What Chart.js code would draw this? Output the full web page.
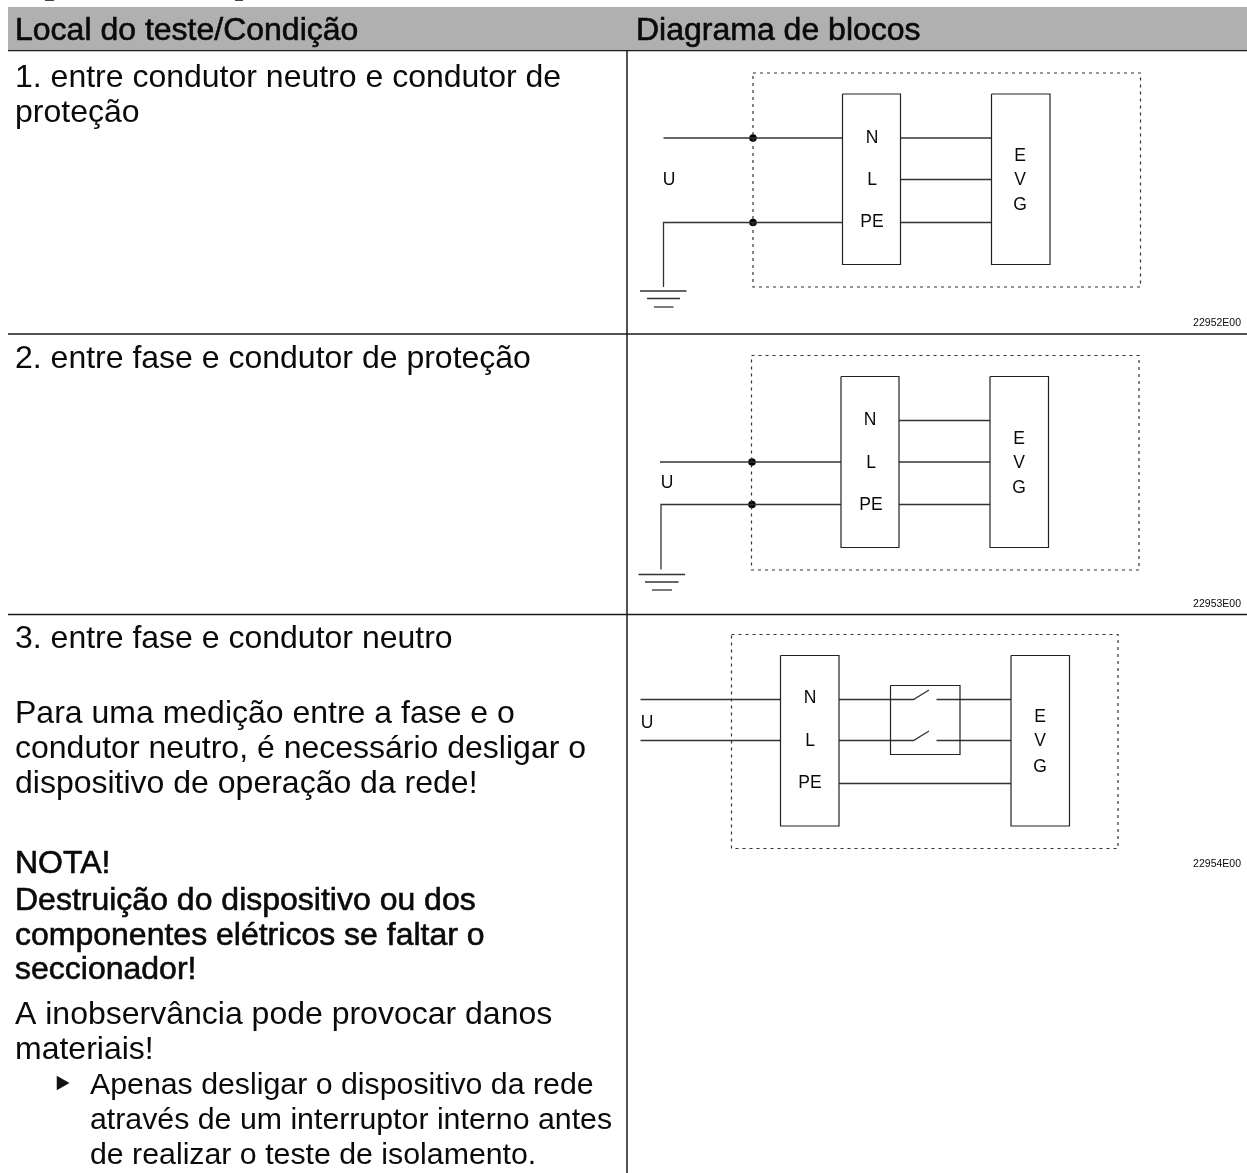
<!DOCTYPE html>
<html>
<head>
<meta charset="utf-8">
<title>Local do teste / Diagrama de blocos</title>
<script src="https://cdn.jsdelivr.net/npm/chart.js@4"></script>
<style>
  html, body { margin: 0; padding: 0; background: #fff; }
  #sheet { position: absolute; left: 0; top: 0; width: 1247px; height: 1173px; }
</style>
</head>
<body>
<div id="sheet"><canvas id="chart"></canvas></div>
<script>
// Everything below is in picture units, the x and y axes run 0-1247 and 0-1173
const headerBand = [[8, 7], [1247, 7], [1247, 50], [8, 50]];

// table rules: x1, y1, x2, y2
const tableRules = [
  [8, 50.5, 1247, 50.5],
  [8, 334, 1247, 334],
  [8, 614.5, 1247, 614.5],
  [627, 7, 627, 1173],
];

// descenders of the line cut off above the table
const clippedGlyphs = [
  [45, 0.5, 54, 0.5],
  [235, 0.5, 243, 0.5],
];

// dashed housing of each diagram
const housings = [
  [[753, 73], [1140.5, 73], [1140.5, 287], [753, 287], [753, 73]],
  [[751.5, 355.5], [1139, 355.5], [1139, 570], [751.5, 570], [751.5, 355.5]],
  [[731.5, 634.5], [1118, 634.5], [1118, 848.5], [731.5, 848.5], [731.5, 634.5]],
];

// solid boxes
const boxes = [
  [[842.5, 94], [900.5, 94], [900.5, 264.5], [842.5, 264.5], [842.5, 94]],
  [[991.5, 94], [1050, 94], [1050, 264.5], [991.5, 264.5], [991.5, 94]],
  [[841, 376.5], [899, 376.5], [899, 547.5], [841, 547.5], [841, 376.5]],
  [[990, 376.5], [1048.5, 376.5], [1048.5, 547.5], [990, 547.5], [990, 376.5]],
  [[780.5, 655.5], [839, 655.5], [839, 826], [780.5, 826], [780.5, 655.5]],
  [[1011, 655.5], [1069.5, 655.5], [1069.5, 826], [1011, 826], [1011, 655.5]],
  [[890.5, 685.5], [960, 685.5], [960, 754.5], [890.5, 754.5], [890.5, 685.5]],
];

// wires as polylines
const wires = [
  [[663.5, 138], [842.5, 138]],
  [[900.5, 138], [991.5, 138]],
  [[900.5, 179.5], [991.5, 179.5]],
  [[663.5, 287], [663.5, 222.5], [842.5, 222.5]],
  [[900.5, 222.5], [991.5, 222.5]],
  [[640, 291], [686.5, 291]],
  [[647, 298.5], [680, 298.5]],
  [[654, 307], [673.5, 307]],

  [[899, 420.5], [990, 420.5]],
  [[660, 462], [841, 462]],
  [[899, 462], [990, 462]],
  [[661, 569.5], [661, 504.5], [841, 504.5]],
  [[899, 504.5], [990, 504.5]],
  [[638.5, 574.5], [685, 574.5]],
  [[645, 582], [678.5, 582]],
  [[652, 590], [672, 590]],

  [[640.5, 699.5], [780.5, 699.5]],
  [[640.5, 740.5], [780.5, 740.5]],
  [[839, 699.5], [913.5, 699.5], [929, 690]],
  [[936.5, 699.5], [1011, 699.5]],
  [[839, 740.5], [913.5, 740.5], [929, 731]],
  [[936.5, 740.5], [1011, 740.5]],
  [[839, 783.5], [1011, 783.5]],
];

const junctions = [[753, 138], [753, 222.5], [752, 462], [752, 504.5]];
const bullets = [[61, 1083]];

// text: label, x, y (baseline)
const headerTexts = [
  ["Local do teste/Condição", 15, 40],
  ["Diagrama de blocos", 636, 40],
];
const bodyTexts = [
  ["1. entre condutor neutro e condutor de", 15, 87],
  ["proteção", 15, 122],
  ["2. entre fase e condutor de proteção", 15, 368],
  ["3. entre fase e condutor neutro", 15, 648],
  ["Para uma medição entre a fase e o", 15, 723],
  ["condutor neutro, é necessário desligar o", 15, 758],
  ["dispositivo de operação da rede!", 15, 793],
  ["A inobservância pode provocar danos", 15, 1024],
  ["materiais!", 15, 1059],
];
const stepTexts = [
  ["Apenas desligar o dispositivo da rede", 90, 1094],
  ["através de um interruptor interno antes", 90, 1129],
  ["de realizar o teste de isolamento.", 90, 1164],
];
const noteTexts = [
  ["NOTA!", 15, 873],
  ["Destruição do dispositivo ou dos", 15, 910],
  ["componentes elétricos se faltar o", 15, 945],
  ["seccionador!", 15, 979],
];
const diagramLabels = [
  ["N", 872, 138], ["L", 872, 180], ["PE", 872, 222],
  ["E", 1020, 156], ["V", 1020, 180], ["G", 1020, 205], ["U", 669, 180],
  ["N", 870, 420], ["L", 871, 463], ["PE", 871, 505],
  ["E", 1019, 439], ["V", 1019, 463], ["G", 1019, 488], ["U", 667, 483],
  ["N", 810, 698], ["L", 810, 741], ["PE", 810, 783],
  ["E", 1040, 717], ["V", 1040, 741], ["G", 1040, 767], ["U", 647, 723],
];
const drawingCodes = [
  ["22952E00", 1241, 323],
  ["22953E00", 1241, 604],
  ["22954E00", 1241, 864],
];

const toPoints = (pts) => pts.map((p) => ({ x: p[0], y: p[1] }));

function lineSet(pts, color, width, dash) {
  return {
    data: toPoints(pts),
    showLine: true,
    fill: false,
    borderColor: color,
    borderWidth: width,
    borderDash: dash || [],
    pointRadius: 0,
    tension: 0,
  };
}

const datasets = [];
datasets.push({
  data: toPoints(headerBand.concat([headerBand[0]])),
  showLine: true,
  fill: "shape",
  backgroundColor: "#b0b0b0",
  borderWidth: 0,
  pointRadius: 0,
});
tableRules.forEach((r) => {
  datasets.push(lineSet([[r[0], r[1]], [r[2], r[3]]], "#1a1a1a", 1.5));
});
clippedGlyphs.forEach((r) => {
  datasets.push(lineSet([[r[0], r[1]], [r[2], r[3]]], "#444", 1));
});
housings.forEach((h) => datasets.push(lineSet(h, "#333", 1.2, [3, 4])));
boxes.forEach((b) => datasets.push(lineSet(b, "#222", 1.2)));
wires.forEach((w) => datasets.push(lineSet(w, "#333", 1.3)));
datasets.push({
  data: toPoints(junctions),
  showLine: false,
  pointRadius: 3.8,
  backgroundColor: "#000",
  borderWidth: 0,
});
datasets.push({
  data: toPoints(bullets),
  showLine: false,
  pointStyle: "triangle",
  rotation: 90,
  pointRadius: 8.5,
  backgroundColor: "#111",
  borderWidth: 0,
});

// writes the table text and diagram labels at axis positions
const sheetText = {
  id: "sheetText",
  afterDatasetsDraw(chart) {
    const { ctx, scales } = chart;
    const write = (rows, font, align, base, heavy) => {
      ctx.save();
      ctx.font = font;
      ctx.textAlign = align;
      ctx.textBaseline = base;
      ctx.fillStyle = "#0a0a0a";
      ctx.strokeStyle = "#0a0a0a";
      ctx.lineWidth = 0.6;
      rows.forEach((r) => {
        const x = scales.x.getPixelForValue(r[1]);
        const y = scales.y.getPixelForValue(r[2]);
        ctx.fillText(r[0], x, y);
        if (heavy) ctx.strokeText(r[0], x, y);
      });
      ctx.restore();
    };
    write(headerTexts, '32px "Liberation Sans"', "left", "alphabetic", true);
    write(bodyTexts, '32px "Liberation Sans"', "left", "alphabetic", false);
    write(stepTexts, '30.3px "Liberation Sans"', "left", "alphabetic", false);
    write(noteTexts, '32px "Liberation Sans"', "left", "alphabetic", true);
    write(diagramLabels, '17.5px "Liberation Sans"', "center", "middle", false);
    write(drawingCodes, '10.5px "Liberation Sans"', "right", "middle", false);
  },
};

new Chart(document.getElementById("chart"), {
  type: "scatter",
  data: { datasets },
  plugins: [sheetText],
  options: {
    responsive: true,
    maintainAspectRatio: false,
    animation: false,
    layout: { padding: 0, autoPadding: false },
    plugins: { legend: { display: false }, tooltip: { enabled: false }, title: { display: false } },
    scales: {
      x: { type: "linear", min: 0, max: 1247, display: false },
      y: { type: "linear", min: 0, max: 1173, reverse: true, display: false },
    },
  },
});
</script>
</body>
</html>
